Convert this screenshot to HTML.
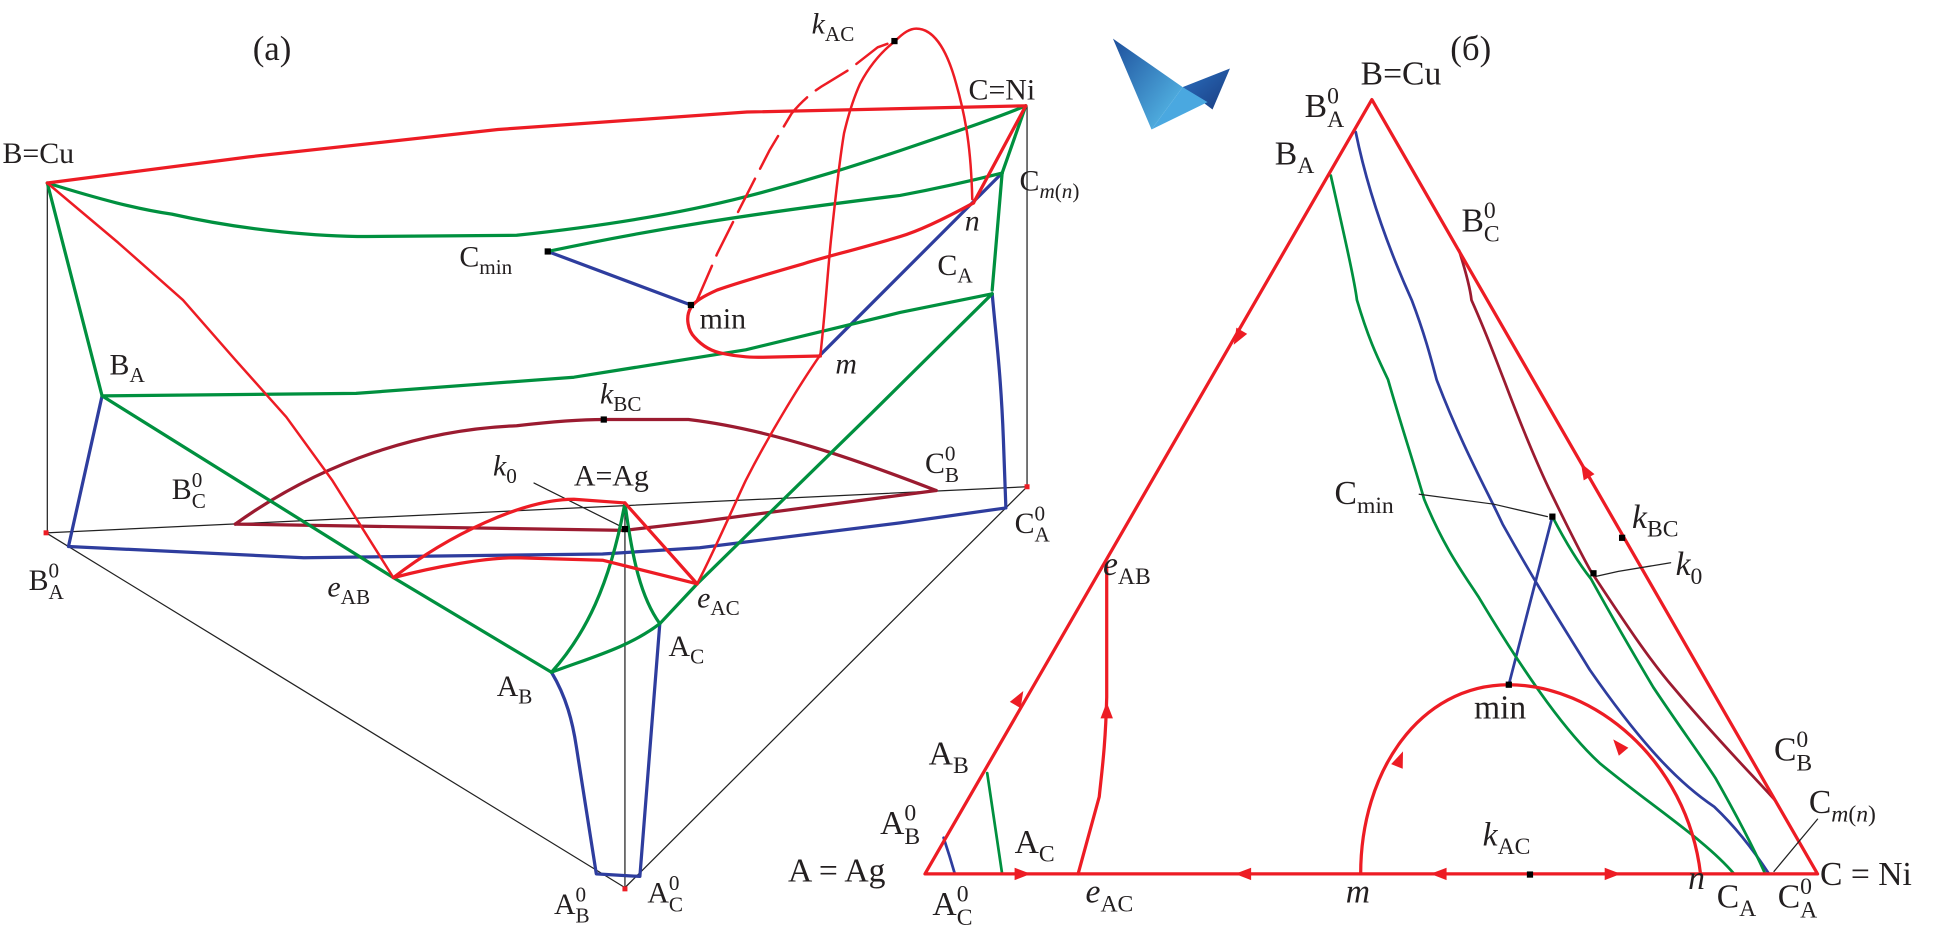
<!DOCTYPE html>
<html><head><meta charset="utf-8"><style>
html,body{margin:0;padding:0;background:#fff;}
svg{display:block;}
text{font-family:"Liberation Serif",serif;fill:#231f20;}
</style></head><body>
<svg width="1952" height="948" viewBox="0 0 1568 761.5" preserveAspectRatio="none" xmlns="http://www.w3.org/2000/svg">
<defs>
<linearGradient id="g1" x1="0" y1="0" x2="1" y2="1"><stop offset="0" stop-color="#1d4f9c"/><stop offset="1" stop-color="#5bc3ee"/></linearGradient>
<linearGradient id="g2" x1="0" y1="0" x2="1" y2="1"><stop offset="0" stop-color="#2a6fbf"/><stop offset="1" stop-color="#1a3c80"/></linearGradient>
</defs>
<g fill="none" stroke-linejoin="round" stroke-linecap="round">
<g stroke="#222" stroke-width="1">
<line x1="38" y1="147" x2="38" y2="428"/>
<line x1="825" y1="85" x2="825" y2="391"/>
<line x1="502" y1="404" x2="502" y2="713"/>
<line x1="37" y1="428" x2="825" y2="391"/>
<line x1="37" y1="428" x2="502" y2="713"/>
<line x1="502" y1="713" x2="825" y2="391"/>
<line x1="429" y1="388" x2="497" y2="422"/>
</g>
<g stroke="#9b1b30" stroke-width="2.6">
<path d="M189,421 C260,370 340,345 415,342 C450,338 470,337 485,337 C520,337 553,337 553,337 C620,345 690,370 752,394"/>
<path d="M189,421 L502,426 L562,419 L752,394"/>
</g>
<g stroke="#2e3d9e" stroke-width="2.6">
<path d="M82,318 L55,439 L244,448 L484,445 L562,440 L723,420 L808,408 L806,353 C804,300 800,270 797,236"/>
<line x1="440" y1="202" x2="555" y2="245"/>
<line x1="659" y1="285" x2="805" y2="139"/>
<path d="M443,540 C455,560 460,580 463,600 L479,702 L514,704 L530,501"/>
</g>
<g stroke="#00903f" stroke-width="2.6">
<path d="M38,147 C80,160 110,168 138,172 C200,186 260,190 295,190 L415,189 C500,180 560,168 599,158 C650,145 690,132 723,121 C770,105 800,95 824,85"/>
<path d="M440,202 C520,185 600,172 723,157 C760,150 785,144 805,139"/>
<line x1="824" y1="85" x2="805" y2="139"/>
<line x1="805" y1="139" x2="797" y2="233"/>
<path d="M38,147 L82,318"/>
<path d="M82,318 L286,316 L461,303 L599,281 L723,251 L797,236"/>
<path d="M82,318 L316,464 L443,540"/>
<path d="M443,540 C470,510 490,470 502,404 C508,450 515,480 530,501"/>
<path d="M443,540 C475,528 505,520 530,501 L560,469 L700,332 L797,236"/>
</g>
<g stroke="#ed1c24" stroke-width="2.6">
<path d="M38,147 L200,126 L400,104 L600,90 L824,85"/>
<polyline points="38,147 95,195 147,241 189,289 230,335 267,386 316,464" stroke-width="2"/>
<path d="M316,464 C360,430 420,401 461,401 L502,404"/>
<path d="M316,464 C350,455 390,448 415,448 L484,450 L560,469"/>
<line x1="502" y1="404" x2="560" y2="469"/>
<path d="M560,469 C575,440 590,405 599,386 C620,345 645,305 659,285 C663,250 665,215 668,188 C672,150 675,125 678,107 C682,90 686,78 691,67 C700,50 710,40 719,33" stroke-width="2"/>
<path d="M719,33 C726,26 731,23 736,23 C752,23 762,45 768,67 C776,95 780,120 781,160" stroke-width="2"/>
<path d="M824,85 L782,163"/>
<path d="M782,163 C760,175 740,185 723,190 C690,200 660,207 645,212 C610,222 590,228 576,233 C565,238 558,242 555,247 C550,255 553,266 558,271 C566,280 575,283 581,284 C595,287 605,287 613,287 L659,286"/>
<path d="M560,241 L576,204 L595,166 L618,121 L636,91 C645,80 655,72 664,67 L682,56 L705,38 L719,33" stroke-dasharray="30 9" stroke-width="2"/>
</g>
<g stroke="#2e3d9e" stroke-width="2.2">
<path d="M1089,106 C1100,160 1120,210 1134,241 C1145,270 1150,290 1154,305 C1175,360 1195,395 1207,421 C1240,480 1260,510 1277,538 C1320,600 1350,630 1377,648 C1395,665 1410,685 1421,702"/>
<path d="M1247,415 L1212,550"/>
<path d="M758,673 C762,685 765,695 767,702"/>
</g>
<g stroke="#00903f" stroke-width="2.2">
<path d="M1069,141 C1080,190 1088,225 1090,241 C1100,275 1108,290 1115,305 C1125,340 1135,370 1144,401 C1160,440 1175,460 1188,480 C1230,550 1260,590 1285,613 C1330,650 1370,675 1393,702"/>
<path d="M1247,415 C1260,440 1270,455 1278,465 C1300,505 1315,530 1328,552 C1350,585 1365,605 1378,625 C1395,655 1408,680 1418,702"/>
<path d="M793,621 L805,702"/>
</g>
<g stroke="#9b1b30" stroke-width="2.2">
<path d="M1172,201 C1178,220 1181,232 1182,241 C1195,270 1202,290 1208,305 C1225,350 1236,375 1244,392 C1260,425 1270,445 1278,459 C1305,500 1325,530 1344,552 C1380,595 1410,625 1426,643"/>
</g>
<g stroke="#ed1c24" stroke-width="2.6">
<path d="M743,702 L1102,80 L1460,702 Z"/>
<path d="M889,455 L889,560 C888,600 885,620 883,640 L866,702"/>
<path d="M1093,702 C1093,620 1140,550 1212,550 C1280,550 1355,610 1366,702"/>
</g>
<g stroke="#222" stroke-width="1">
<path d="M1140,397 L1200,405 L1243,415"/>
<path d="M1282,463 L1300,459 L1342,452"/>
<path d="M1425,700 L1460,658"/>
</g>
</g>
<g fill="#ed1c24">
<path d="M0,-8 L5,5 L-5,5Z" transform="translate(995,270) rotate(-150)"/>
<path d="M0,-8 L5,5 L-5,5Z" transform="translate(818,562) rotate(30)"/>
<path d="M0,-8 L5,5 L-5,5Z" transform="translate(889,572)"/>
<path d="M0,-8 L5,5 L-5,5Z" transform="translate(820,702) rotate(90)"/>
<path d="M0,-8 L5,5 L-5,5Z" transform="translate(1000,702) rotate(-90)"/>
<path d="M0,-8 L5,5 L-5,5Z" transform="translate(1157,702) rotate(-90)"/>
<path d="M0,-8 L5,5 L-5,5Z" transform="translate(1294,702) rotate(90)"/>
<path d="M0,-8 L5,5 L-5,5Z" transform="translate(1274,379) rotate(-30)"/>
<path d="M0,-8 L5,5 L-5,5Z" transform="translate(1124,611) rotate(22)"/>
<path d="M0,-8 L5,5 L-5,5Z" transform="translate(1301,600) rotate(-40)"/>
<rect x="35" y="426" width="4" height="4"/><rect x="823" y="389" width="4" height="4"/><rect x="500" y="712" width="4" height="4"/>
</g>
<g fill="#000">
<rect x="716" y="30.5" width="5" height="5"/>
<rect x="437.5" y="199.5" width="5" height="5"/>
<rect x="552.5" y="242.5" width="5" height="5"/>
<rect x="482.5" y="334.5" width="5" height="5"/>
<rect x="499.5" y="422.5" width="5" height="5"/>
<rect x="1244.5" y="412.5" width="5" height="5"/>
<rect x="1300.5" y="429.5" width="5" height="5"/>
<rect x="1277.5" y="458" width="5" height="5"/>
<rect x="1209.5" y="547.5" width="5" height="5"/>
<rect x="1226.5" y="700" width="5" height="5"/>
</g>
<polygon points="894,31 950,70 925,104" fill="url(#g1)"/>
<polygon points="950,70 988,55 974,88" fill="url(#g2)"/>
<polygon points="925,104 950,70 970,82" fill="#4aa8e0"/>
<g font-size="24">
<text x="203" y="48" font-size="28">(a)</text>
<text x="652" y="27" font-style="italic">k<tspan font-style="normal" font-size="17" dy="6">AC</tspan></text>
<text x="2" y="131">B=Cu</text>
<text x="778" y="80">C=Ni</text>
<text x="819" y="153">C<tspan font-size="17" dy="6" font-style="italic">m</tspan><tspan font-size="17">(</tspan><tspan font-size="17" font-style="italic">n</tspan><tspan font-size="17">)</tspan></text>
<text x="775" y="185" font-style="italic">n</text>
<text x="753" y="221">C<tspan font-size="17" dy="6">A</tspan></text>
<text x="369" y="214">C<tspan font-size="17" dy="6">min</tspan></text>
<text x="562" y="264">min</text>
<text x="671" y="300" font-style="italic">m</text>
<text x="88" y="301">B<tspan font-size="17" dy="6">A</tspan></text>
<text x="482" y="324" font-style="italic">k<tspan font-style="normal" font-size="17" dy="6">BC</tspan></text>
<text x="138" y="401">B<tspan font-size="17" dy="-10">0</tspan><tspan font-size="17" dx="-8.5" dy="17">C</tspan></text>
<text x="396" y="382" font-style="italic">k<tspan font-style="normal" font-size="17" dy="6">0</tspan></text>
<text x="461" y="390">A=Ag</text>
<text x="743" y="380">C<tspan font-size="17" dy="-10">0</tspan><tspan font-size="17" dx="-8.5" dy="17">B</tspan></text>
<text x="815" y="428">C<tspan font-size="17" dy="-10">0</tspan><tspan font-size="17" dx="-8.5" dy="17">A</tspan></text>
<text x="23" y="474">B<tspan font-size="17" dy="-10">0</tspan><tspan font-size="17" dx="-8.5" dy="17">A</tspan></text>
<text x="263" y="479" font-style="italic">e<tspan font-style="normal" font-size="17" dy="6">AB</tspan></text>
<text x="560" y="488" font-style="italic">e<tspan font-style="normal" font-size="17" dy="6">AC</tspan></text>
<text x="537" y="527">A<tspan font-size="17" dy="6">C</tspan></text>
<text x="399" y="559">A<tspan font-size="17" dy="6">B</tspan></text>
<text x="445" y="734">A<tspan font-size="17" dy="-10">0</tspan><tspan font-size="17" dx="-8.5" dy="17">B</tspan></text>
<text x="520" y="725">A<tspan font-size="17" dy="-10">0</tspan><tspan font-size="17" dx="-8.5" dy="17">C</tspan></text>
</g>
<g font-size="27">
<text x="1165" y="48" font-size="28">(б)</text>
<text x="1093" y="68">B=Cu</text>
<text x="1048" y="94">B<tspan font-size="19" dy="-11">0</tspan><tspan font-size="19" dx="-9.5" dy="19">A</tspan></text>
<text x="1024" y="132">B<tspan font-size="19" dy="7">A</tspan></text>
<text x="1174" y="186">B<tspan font-size="19" dy="-11">0</tspan><tspan font-size="19" dx="-9.5" dy="19">C</tspan></text>
<text x="1072" y="405">C<tspan font-size="19" dy="7">min</tspan></text>
<text x="1311" y="424" font-style="italic">k<tspan font-style="normal" font-size="19" dy="7">BC</tspan></text>
<text x="1346" y="462" font-style="italic">k<tspan font-style="normal" font-size="19" dy="7">0</tspan></text>
<text x="886" y="462" font-style="italic">e<tspan font-style="normal" font-size="19" dy="7">AB</tspan></text>
<text x="1184" y="577">min</text>
<text x="1425" y="611">C<tspan font-size="19" dy="-11">0</tspan><tspan font-size="19" dx="-9.5" dy="19">B</tspan></text>
<text x="1453" y="653">C<tspan font-size="19" dy="7" font-style="italic">m</tspan><tspan font-size="19">(</tspan><tspan font-size="19" font-style="italic">n</tspan><tspan font-size="19">)</tspan></text>
<text x="1191" y="679" font-style="italic">k<tspan font-style="normal" font-size="19" dy="7">AC</tspan></text>
<text x="746" y="614">A<tspan font-size="19" dy="7">B</tspan></text>
<text x="707" y="670">A<tspan font-size="19" dy="-11">0</tspan><tspan font-size="19" dx="-9.5" dy="19">B</tspan></text>
<text x="815" y="685">A<tspan font-size="19" dy="7">C</tspan></text>
<text x="633" y="708">A = Ag</text>
<text x="1462" y="711">C = Ni</text>
<text x="749" y="735">A<tspan font-size="19" dy="-11">0</tspan><tspan font-size="19" dx="-9.5" dy="19">C</tspan></text>
<text x="872" y="725" font-style="italic">e<tspan font-style="normal" font-size="19" dy="7">AC</tspan></text>
<text x="1081" y="725" font-style="italic">m</text>
<text x="1356" y="714" font-style="italic">n</text>
<text x="1379" y="729">C<tspan font-size="19" dy="7">A</tspan></text>
<text x="1428" y="729">C<tspan font-size="19" dy="-11">0</tspan><tspan font-size="19" dx="-9.5" dy="19">A</tspan></text>
</g>
</svg>
</body></html>
